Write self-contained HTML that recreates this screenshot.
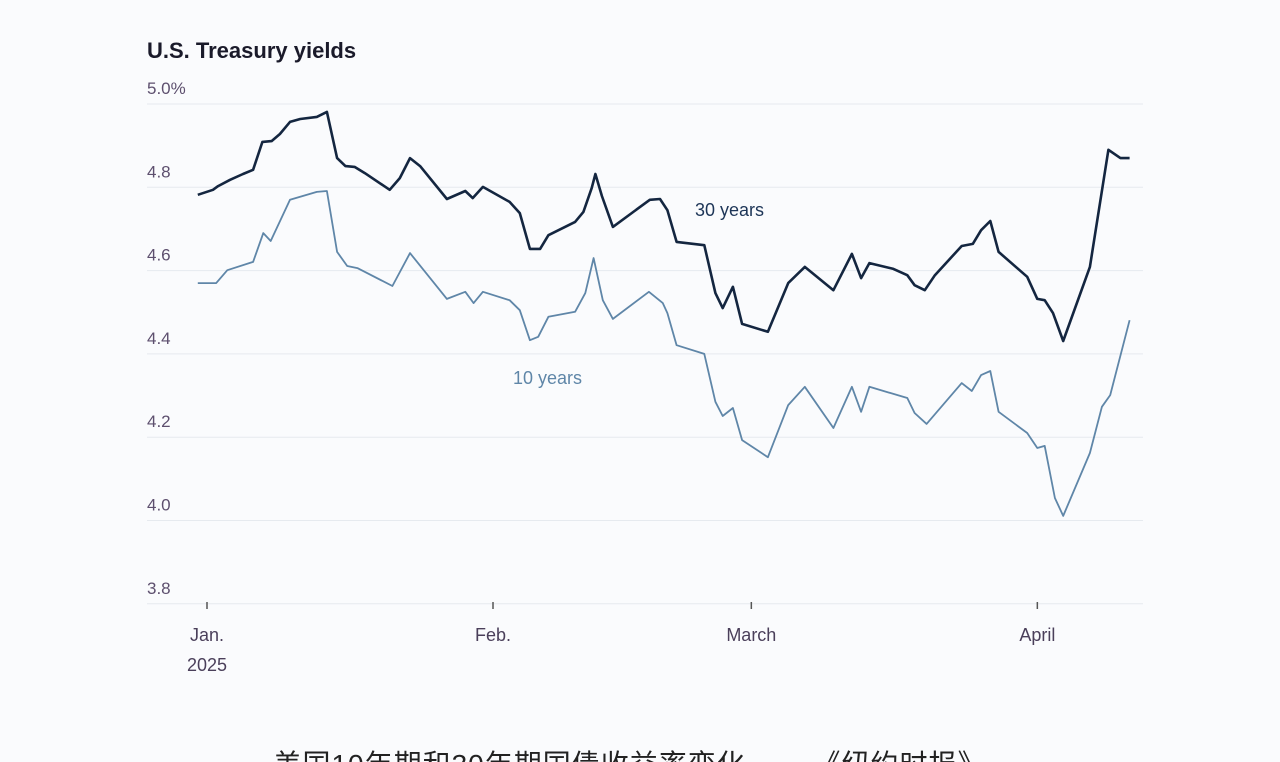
<!DOCTYPE html>
<html><head><meta charset="utf-8"><style>
html,body{margin:0;padding:0;background:#fafbfd;}
svg{display:block;font-family:"Liberation Sans","Noto Sans CJK SC",sans-serif;}
</style></head><body>
<svg id="chart" width="1280" height="762" viewBox="0 0 1280 762">
<rect x="0" y="0" width="1280" height="762" fill="#fafbfd"/>
<text x="147" y="58" font-size="22" font-weight="bold" fill="#1a1a2a">U.S. Treasury yields</text>
<g id="grid"></g>
<g id="yticks"></g>
<g id="xaxis"></g>
<g id="series"></g>
<text x="695" y="216" font-size="18" fill="#1d3557">30 years</text>
<text x="513" y="384" font-size="18" fill="#5f86a8">10 years</text>
<text x="630" y="774" font-size="28" fill="#222" text-anchor="middle" letter-spacing="1">美国10年期和30年期国债收益率变化 ——《纽约时报》</text>
</svg>
<script>
const yTicks=[5.0,4.8,4.6,4.4,4.2,4.0,3.8];
const yTickLabels=["5.0%","4.8","4.6","4.4","4.2","4.0","3.8"];
const xTickDays=[1,32,60,91];
const xTickLabels=["Jan.","Feb.","March","April"];
const days30=[0,1.65,2.2,3.5,4.9,6,7,8,8.9,10,11.1,12.9,14,15.1,16,17,18.1,20.8,21.9,23,24.1,27,29,29.8,30.9,33.8,34.9,36,37.1,38,40.9,41.8,42.7,43.1,43.8,45,49,50.1,50.9,51.9,54.9,56.1,56.9,58,59,61.8,64,65.8,68.9,70.9,71.9,72.8,75.4,76.9,77.7,78.8,79.9,82.8,84,84.9,85.9,86.8,89.9,91,91.8,92.7,93.8,96.7,98.7,100,101];
const yield30=[4.782,4.794,4.803,4.818,4.832,4.842,4.909,4.911,4.928,4.957,4.964,4.969,4.981,4.870,4.851,4.849,4.834,4.794,4.822,4.870,4.851,4.772,4.791,4.774,4.801,4.765,4.738,4.652,4.652,4.685,4.717,4.741,4.798,4.832,4.779,4.705,4.770,4.772,4.745,4.669,4.661,4.546,4.510,4.561,4.472,4.453,4.570,4.609,4.553,4.640,4.582,4.618,4.604,4.589,4.565,4.553,4.589,4.659,4.664,4.697,4.719,4.645,4.585,4.532,4.529,4.498,4.431,4.609,4.890,4.870,4.870];
const days10=[0,2,3.2,6,7.1,7.9,10,12.9,14,15.1,16.2,17.3,21.1,23,27,29,29.9,30.9,33.8,34.9,36,36.9,38,40.9,42,42.9,43.9,45,48.9,50.4,50.9,51.9,54.9,56.1,56.9,58,59,61.8,64,65.8,68.9,70.9,71.9,72.8,76.9,77.7,79,82.8,83.9,84.9,85.9,86.8,89.9,91,91.8,92.9,93.8,96.7,98,98.9,101];
const yield10=[4.570,4.570,4.601,4.621,4.690,4.671,4.770,4.789,4.791,4.645,4.611,4.606,4.563,4.642,4.532,4.549,4.522,4.549,4.529,4.505,4.433,4.441,4.489,4.501,4.546,4.630,4.529,4.484,4.549,4.522,4.498,4.421,4.400,4.285,4.251,4.270,4.193,4.152,4.277,4.321,4.222,4.321,4.261,4.321,4.294,4.258,4.232,4.330,4.311,4.349,4.359,4.261,4.210,4.174,4.179,4.054,4.011,4.162,4.273,4.301,4.481];

const NS="http://www.w3.org/2000/svg";
const yS=v=>104+(5.0-v)*416.5;
const xS=d=>207+(d-1)*9.226;
function mk(tag,attrs,parent){const e=document.createElementNS(NS,tag);for(const k in attrs)e.setAttribute(k,attrs[k]);parent.appendChild(e);return e;}
const grid=document.getElementById('grid'),yt=document.getElementById('yticks'),xa=document.getElementById('xaxis'),ser=document.getElementById('series');
yTicks.forEach((v,i)=>{
  const l=mk('line',{x1:147,x2:1143,y1:yS(v),y2:yS(v),stroke:'#e6eaef','stroke-width':1},grid);
  
  
  const t=mk('text',{x:147,y:yS(v)-10,'font-size':17,fill:'#5d4f6e'},yt);
  t.textContent=yTickLabels[i];
  
  
});
xTickDays.forEach((d,i)=>{
  const x=xS(d);
  const tk=mk('line',{x1:x,x2:x,y1:602,y2:609,stroke:'#555','stroke-width':1.5},xa);
  
  
  const t=mk('text',{x:x,y:641,'font-size':18,fill:'#4a3f5a','text-anchor':'middle'},xa);
  t.textContent=xTickLabels[i];
  
  
});
const yr=mk('text',{x:xS(xTickDays[0]),y:671,'font-size':18,fill:'#4a3f5a','text-anchor':'middle'},xa);
yr.textContent='2025';


function line(days,vals,color,w,name){
  const d=days.map((dd,i)=>(i?'L':'M')+xS(dd).toFixed(1)+','+yS(vals[i]).toFixed(1)).join('');
  const p=mk('path',{d:d,fill:'none',stroke:color,'stroke-width':w,'stroke-linejoin':'round'},ser);
  
  
}
line(days10,yield10,'#5f86a8',1.8,'line-10-years');
line(days30,yield30,'#142640',2.6,'line-30-years');
</script>
</body></html>
